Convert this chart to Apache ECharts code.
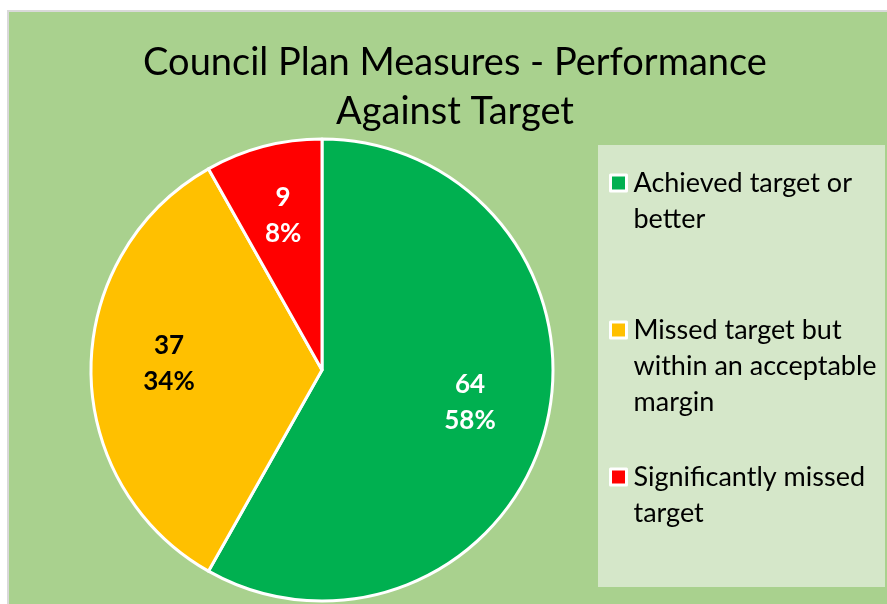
<!DOCTYPE html>
<html>
<head>
<meta charset="utf-8">
<script src="https://cdn.jsdelivr.net/npm/echarts@6/dist/echarts.min.js"></script>
<style>
    body { margin: 0; background: #ffffff; }
    #frame { position: absolute; left: 7px; top: 10px; width: 880px; height: 594px; background: #d9d9d9; }
    #chart { position: absolute; left: 9px; top: 12px; width: 878px; height: 592px; }
</style>
</head>
<body>
<div id="frame"></div>
<div id="chart"></div>
<script>
const categories = ['Achieved target or better', 'Missed target but within an acceptable margin', 'Significantly missed target'];
const counts = [64, 37, 9];
const sliceColors = ['#00b050', '#ffc000', '#ff0000'];
const labelColors = ['#ffffff', '#000000', '#ffffff'];
// wrapped legend text, as it reads in the picture
const legendLines = [
    ['Achieved target or', 'better'],
    ['Missed target but', 'within an acceptable', 'margin'],
    ['Significantly missed', 'target']
];

const FONT = 'Lato';
const LEGEND_LINE = 36;

function createPieChart() {
    let chartDom = document.getElementById('chart');
    let myChart = echarts.init(chartDom);
    let option;

    let pieData = [];
    let labelData = [];
    for (let i = 0; i < categories.length; i++) {
        pieData.push({
            name: categories[i],
            value: counts[i],
            itemStyle: { color: sliceColors[i] }
        });
        labelData.push({
            name: categories[i],
            value: counts[i],
            label: { color: labelColors[i] }
        });
    }

    option = {
        backgroundColor: '#a9d18e',
        animation: false,
        title: {
            text: 'Council Plan Measures - Performance\nAgainst Target',
            left: 446,
            top: 26,
            padding: 0,
            textAlign: 'center',
            textStyle: {
                fontFamily: FONT,
                fontSize: 38,
                fontWeight: 'normal',
                color: '#000000',
                lineHeight: 49
            }
        },
        graphic: [{
            type: 'rect',
            z: -1,
            shape: { x: 589, y: 133, width: 287, height: 442 },
            style: { fill: '#d5e7c9' }
        }],
        legend: {
            orient: 'vertical',
            left: 600,
            top: 117,
            padding: 0,
            itemGap: 3,
            itemWidth: 16,
            itemHeight: 16,
            icon: 'rect',
            selectedMode: false,
            itemStyle: { borderColor: '#ffffff', borderWidth: 3 },
            data: categories,
            formatter: function (name) {
                let lines = legendLines[categories.indexOf(name)];
                // blank lines on top keep the marker level with the first line
                return '\n'.repeat(lines.length - 1) + lines.join('\n');
            },
            textStyle: {
                fontFamily: FONT,
                fontSize: 27,
                color: '#000000',
                lineHeight: LEGEND_LINE,
                padding: [0, 0, 0, 2]
            }
        },
        series: [
            {
                type: 'pie',
                center: [313, 358],
                radius: 231,
                startAngle: 90,
                clockwise: true,
                silent: true,
                label: { show: false },
                labelLine: { show: false },
                itemStyle: { borderColor: '#ffffff', borderWidth: 3 },
                emphasis: { disabled: true },
                data: pieData
            },
            {
                // transparent ring only carrying the value labels
                type: 'pie',
                center: [313, 358],
                radius: [69, 231],
                startAngle: 90,
                clockwise: true,
                silent: true,
                percentPrecision: 0,
                itemStyle: { color: 'rgba(0,0,0,0)', borderWidth: 0 },
                emphasis: { disabled: true },
                label: {
                    show: true,
                    position: 'inside',
                    formatter: '{c}\n{d}%',
                    fontFamily: FONT,
                    fontSize: 26,
                    fontWeight: 'bold',
                    lineHeight: 36,
                    offset: [0, -6]
                },
                labelLine: { show: false },
                data: labelData
            }
        ]
    };

    option && myChart.setOption(option);
}

createPieChart();
</script>
</body>
</html>
